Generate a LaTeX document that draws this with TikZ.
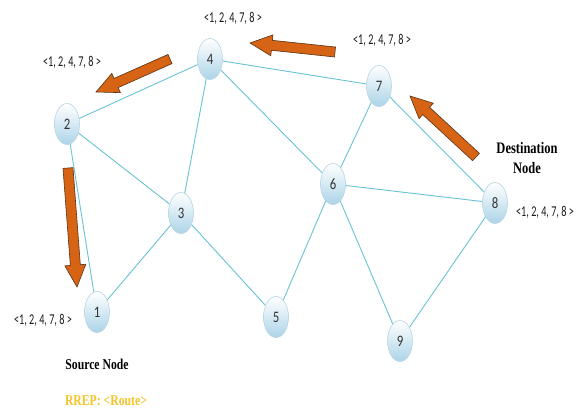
\documentclass[tikz,border=0pt]{standalone}
\usepackage{fontspec}
\setmainfont{Liberation Serif}
\newfontfamily\lblfont[FakeStretch=0.8]{Carlito}
\newfontfamily\routefont[FakeStretch=0.68]{Carlito}
\newfontfamily\condbold[FakeStretch=0.78]{Liberation Serif}
\usetikzlibrary{shapes.geometric,calc}
\definecolor{edgec}{RGB}{105,195,212}
\definecolor{nodeout}{RGB}{172,212,232}
\definecolor{nodeline}{RGB}{185,212,228}
\definecolor{arrfill}{RGB}{214,100,20}
\definecolor{arrline}{RGB}{90,50,20}
\definecolor{rrep}{RGB}{244,196,40}
\tikzset{
  netnode/.style={ellipse, minimum width=25pt, minimum height=41pt, inner sep=0pt,
    draw=nodeline, line width=0.6pt, top color=white, bottom color=nodeout,
    font=\lblfont\fontsize{16}{16}\selectfont, text=black!80},
  link/.style={draw=edgec, line width=0.9pt},
  routelbl/.style={font=\routefont\fontsize{15}{15}\selectfont, text=black!90, inner sep=0pt},
  boldlbl/.style={font=\condbold\bfseries\fontsize{15}{20}\selectfont, inner sep=0pt, align=center},
  blockarr/.style={fill=arrfill, draw=arrline, line width=0.6pt, line join=miter}
}
\newcommand\blockarrow[2]{%
  \coordinate (m) at ($(#2)!22pt!(#1)$);
  \path[blockarr] ($(#1)!5pt!90:(#2)$) -- ($(m)!5pt!90:(#2)$) -- ($(m)!10.5pt!90:(#2)$)
    -- (#2) -- ($(m)!10.5pt!-90:(#2)$) -- ($(m)!5pt!-90:(#2)$) -- ($(#1)!5pt!-90:(#2)$) -- cycle;
}
\begin{document}
\begin{tikzpicture}[x=1pt,y=-1pt]
\useasboundingbox[fill=white] (0,0) rectangle (578,412);
% node positions
\coordinate (p1) at (97,312);
\coordinate (p2) at (67,124);
\coordinate (p3) at (181,213);
\coordinate (p4) at (210,59);
\coordinate (p5) at (276,317);
\coordinate (p6) at (333,184);
\coordinate (p7) at (379,86);
\coordinate (p8) at (495,203);
\coordinate (p9) at (400,341);
% links
\path[link] (p2) -- (p4);
\path[link] (p2) -- (p3);
\path[link] (p2) -- (p1);
\path[link] (p4) -- (p3);
\path[link] (p4) -- (p7);
\path[link] (p4) -- (p6);
\path[link] (p3) -- (p1);
\path[link] (p3) -- (p5);
\path[link] (p7) -- (p6);
\path[link] (p7) -- (p8);
\path[link] (p6) -- (p8);
\path[link] (p6) -- (p5);
\path[link] (p6) -- (p9);
\path[link] (p8) -- (p9);
% nodes
\node[netnode] (n1) at (p1) {1};
\node[netnode] (n2) at (p2) {2};
\node[netnode] (n3) at (p3) {3};
\node[netnode] (n4) at (p4) {4};
\node[netnode] (n5) at (p5) {5};
\node[netnode] (n6) at (p6) {6};
\node[netnode] (n7) at (p7) {7};
\node[netnode] (n8) at (p8) {8};
\node[netnode] (n9) at (p9) {9};
% route labels
\node[routelbl] (l4) at (233,18) {<1, 2, 4, 7, 8 >};
\node[routelbl] (l2) at (72,62) {<1, 2, 4, 7, 8 >};
\node[routelbl] (l7) at (382,40) {<1, 2, 4, 7, 8 >};
\node[routelbl] (l8) at (545,212) {<1, 2, 4, 7, 8 >};
\node[routelbl] (l1) at (43,320) {<1, 2, 4, 7, 8 >};
% text labels
\node[boldlbl, font=\condbold\bfseries\fontsize{16}{20}\selectfont] (dst) at (527,158) {Destination\\Node};
\node[boldlbl] (src) at (97,364) {Source Node};
\node[boldlbl, text=rrep] (rrep) at (106,401) {RREP: <Route>};
% block arrows
\coordinate (a1s) at (170,59); \coordinate (a1e) at (96,92);
\coordinate (a2s) at (335,52); \coordinate (a2e) at (250,43);
\coordinate (a3s) at (476,157); \coordinate (a3e) at (410,96);
\coordinate (a4s) at (68,168); \coordinate (a4e) at (77,287);
\blockarrow{a1s}{a1e}
\blockarrow{a2s}{a2e}
\blockarrow{a3s}{a3e}
\blockarrow{a4s}{a4e}
\end{tikzpicture}
\end{document}
